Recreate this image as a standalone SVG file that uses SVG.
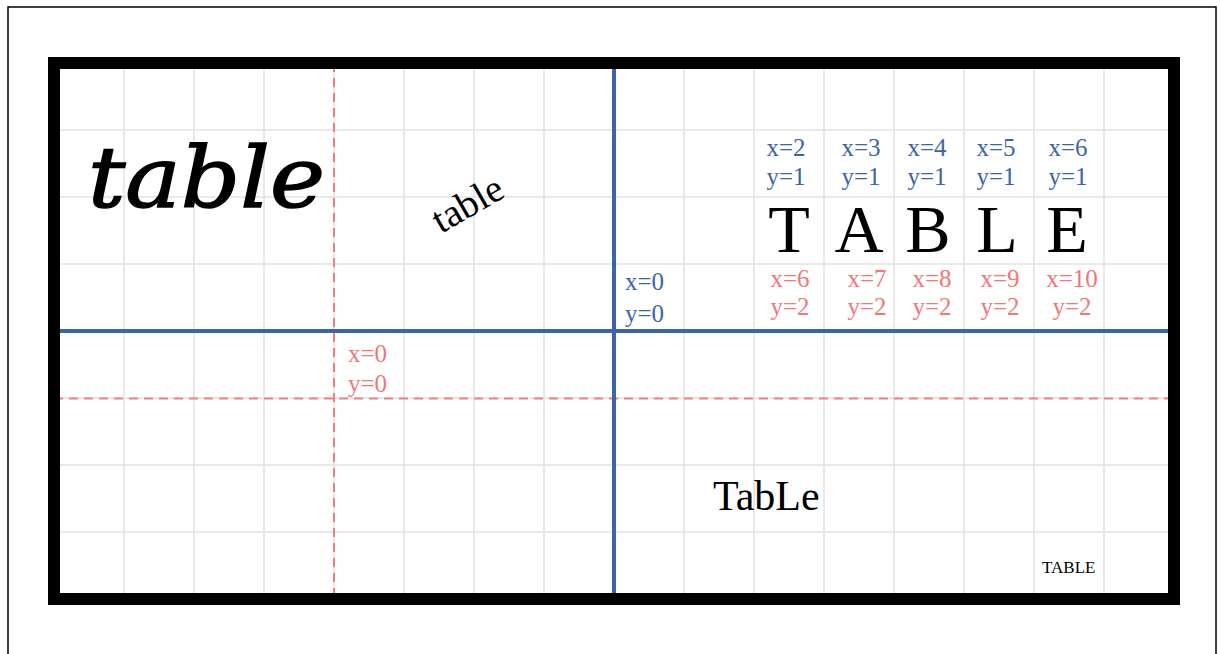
<svg xmlns="http://www.w3.org/2000/svg" width="1220" height="654" viewBox="0 0 1220 654">
<style>
.grid{stroke:#e2e2e2;stroke-width:1.5;fill:none}
.axis{stroke:#3e64a8;stroke-width:4;fill:none}
.dash{stroke:#f08080;stroke-width:2;stroke-dasharray:9 6;fill:none}
.t{font-family:"Liberation Serif","Times New Roman",serif}
.b{fill:#3e64a8;font-size:25px}
.r{fill:#f07878;font-size:25px}
.big{font-size:68px;fill:#000;text-anchor:middle}
</style>
<rect x="0" y="0" width="1220" height="654" fill="#fff"/>
<rect x="8" y="7" width="1208" height="680" fill="none" stroke="#000" stroke-width="1.5"/>
<g id="grid" class="grid">
<path d="M124 63V599M194 63V599M264 63V599M334 63V599M404 63V599M474 63V599M544 63V599M614 63V599M684 63V599M754 63V599M824 63V599M894 63V599M964 63V599M1034 63V599M1104 63V599"/>
<path d="M54 130H1174M54 197H1174M54 264H1174M54 331H1174M54 398H1174M54 465H1174M54 532H1174"/>
</g>
<g id="connectors">
<path class="dash" d="M334 63V599"/>
<path class="dash" d="M54 398.5H1174"/>
<path class="axis" d="M614 63V599"/>
<path class="axis" d="M54 331H1174"/>
</g>
<rect id="frame" x="54" y="63" width="1120" height="536" fill="none" stroke="#000" stroke-width="12"/>
<g id="script-table">
<text x="88" y="207" font-family="DejaVu Serif, serif" font-style="italic" font-size="85" stroke="#000" stroke-width="1.5" textLength="237" lengthAdjust="spacingAndGlyphs">table</text>
</g>
<g id="rotated-table">
<text class="t" x="441" y="234" font-size="39" transform="rotate(-30 441 234)">table</text>
</g>
<g id="origin-blue" class="t b">
<text x="625" y="290">x=0</text>
<text x="625" y="322">y=0</text>
</g>
<g id="origin-red" class="t r">
<text x="348" y="362">x=0</text>
<text x="348" y="392">y=0</text>
</g>
<g id="blue-labels" class="t b" text-anchor="middle">
<text x="786" y="156">x=2</text><text x="786" y="185">y=1</text>
<text x="861" y="156">x=3</text><text x="861" y="185">y=1</text>
<text x="927" y="156">x=4</text><text x="927" y="185">y=1</text>
<text x="996" y="156">x=5</text><text x="996" y="185">y=1</text>
<text x="1068" y="156">x=6</text><text x="1068" y="185">y=1</text>
</g>
<g id="letters" class="t big">
<text x="789" y="252">T</text>
<text x="859" y="252">A</text>
<text x="928" y="252">B</text>
<text x="997" y="252">L</text>
<text x="1067" y="252">E</text>
</g>
<g id="red-labels" class="t r" text-anchor="middle">
<text x="790" y="287">x=6</text><text x="790" y="315">y=2</text>
<text x="867" y="287">x=7</text><text x="867" y="315">y=2</text>
<text x="932" y="287">x=8</text><text x="932" y="315">y=2</text>
<text x="1000" y="287">x=9</text><text x="1000" y="315">y=2</text>
<text x="1072" y="287">x=10</text><text x="1072" y="315">y=2</text>
</g>
<g id="tabLe">
<text class="t" x="713" y="510" font-size="42">TabLe</text>
</g>
<g id="small-table">
<text class="t" x="1042" y="573" font-size="17">TABLE</text>
</g>
</svg>
